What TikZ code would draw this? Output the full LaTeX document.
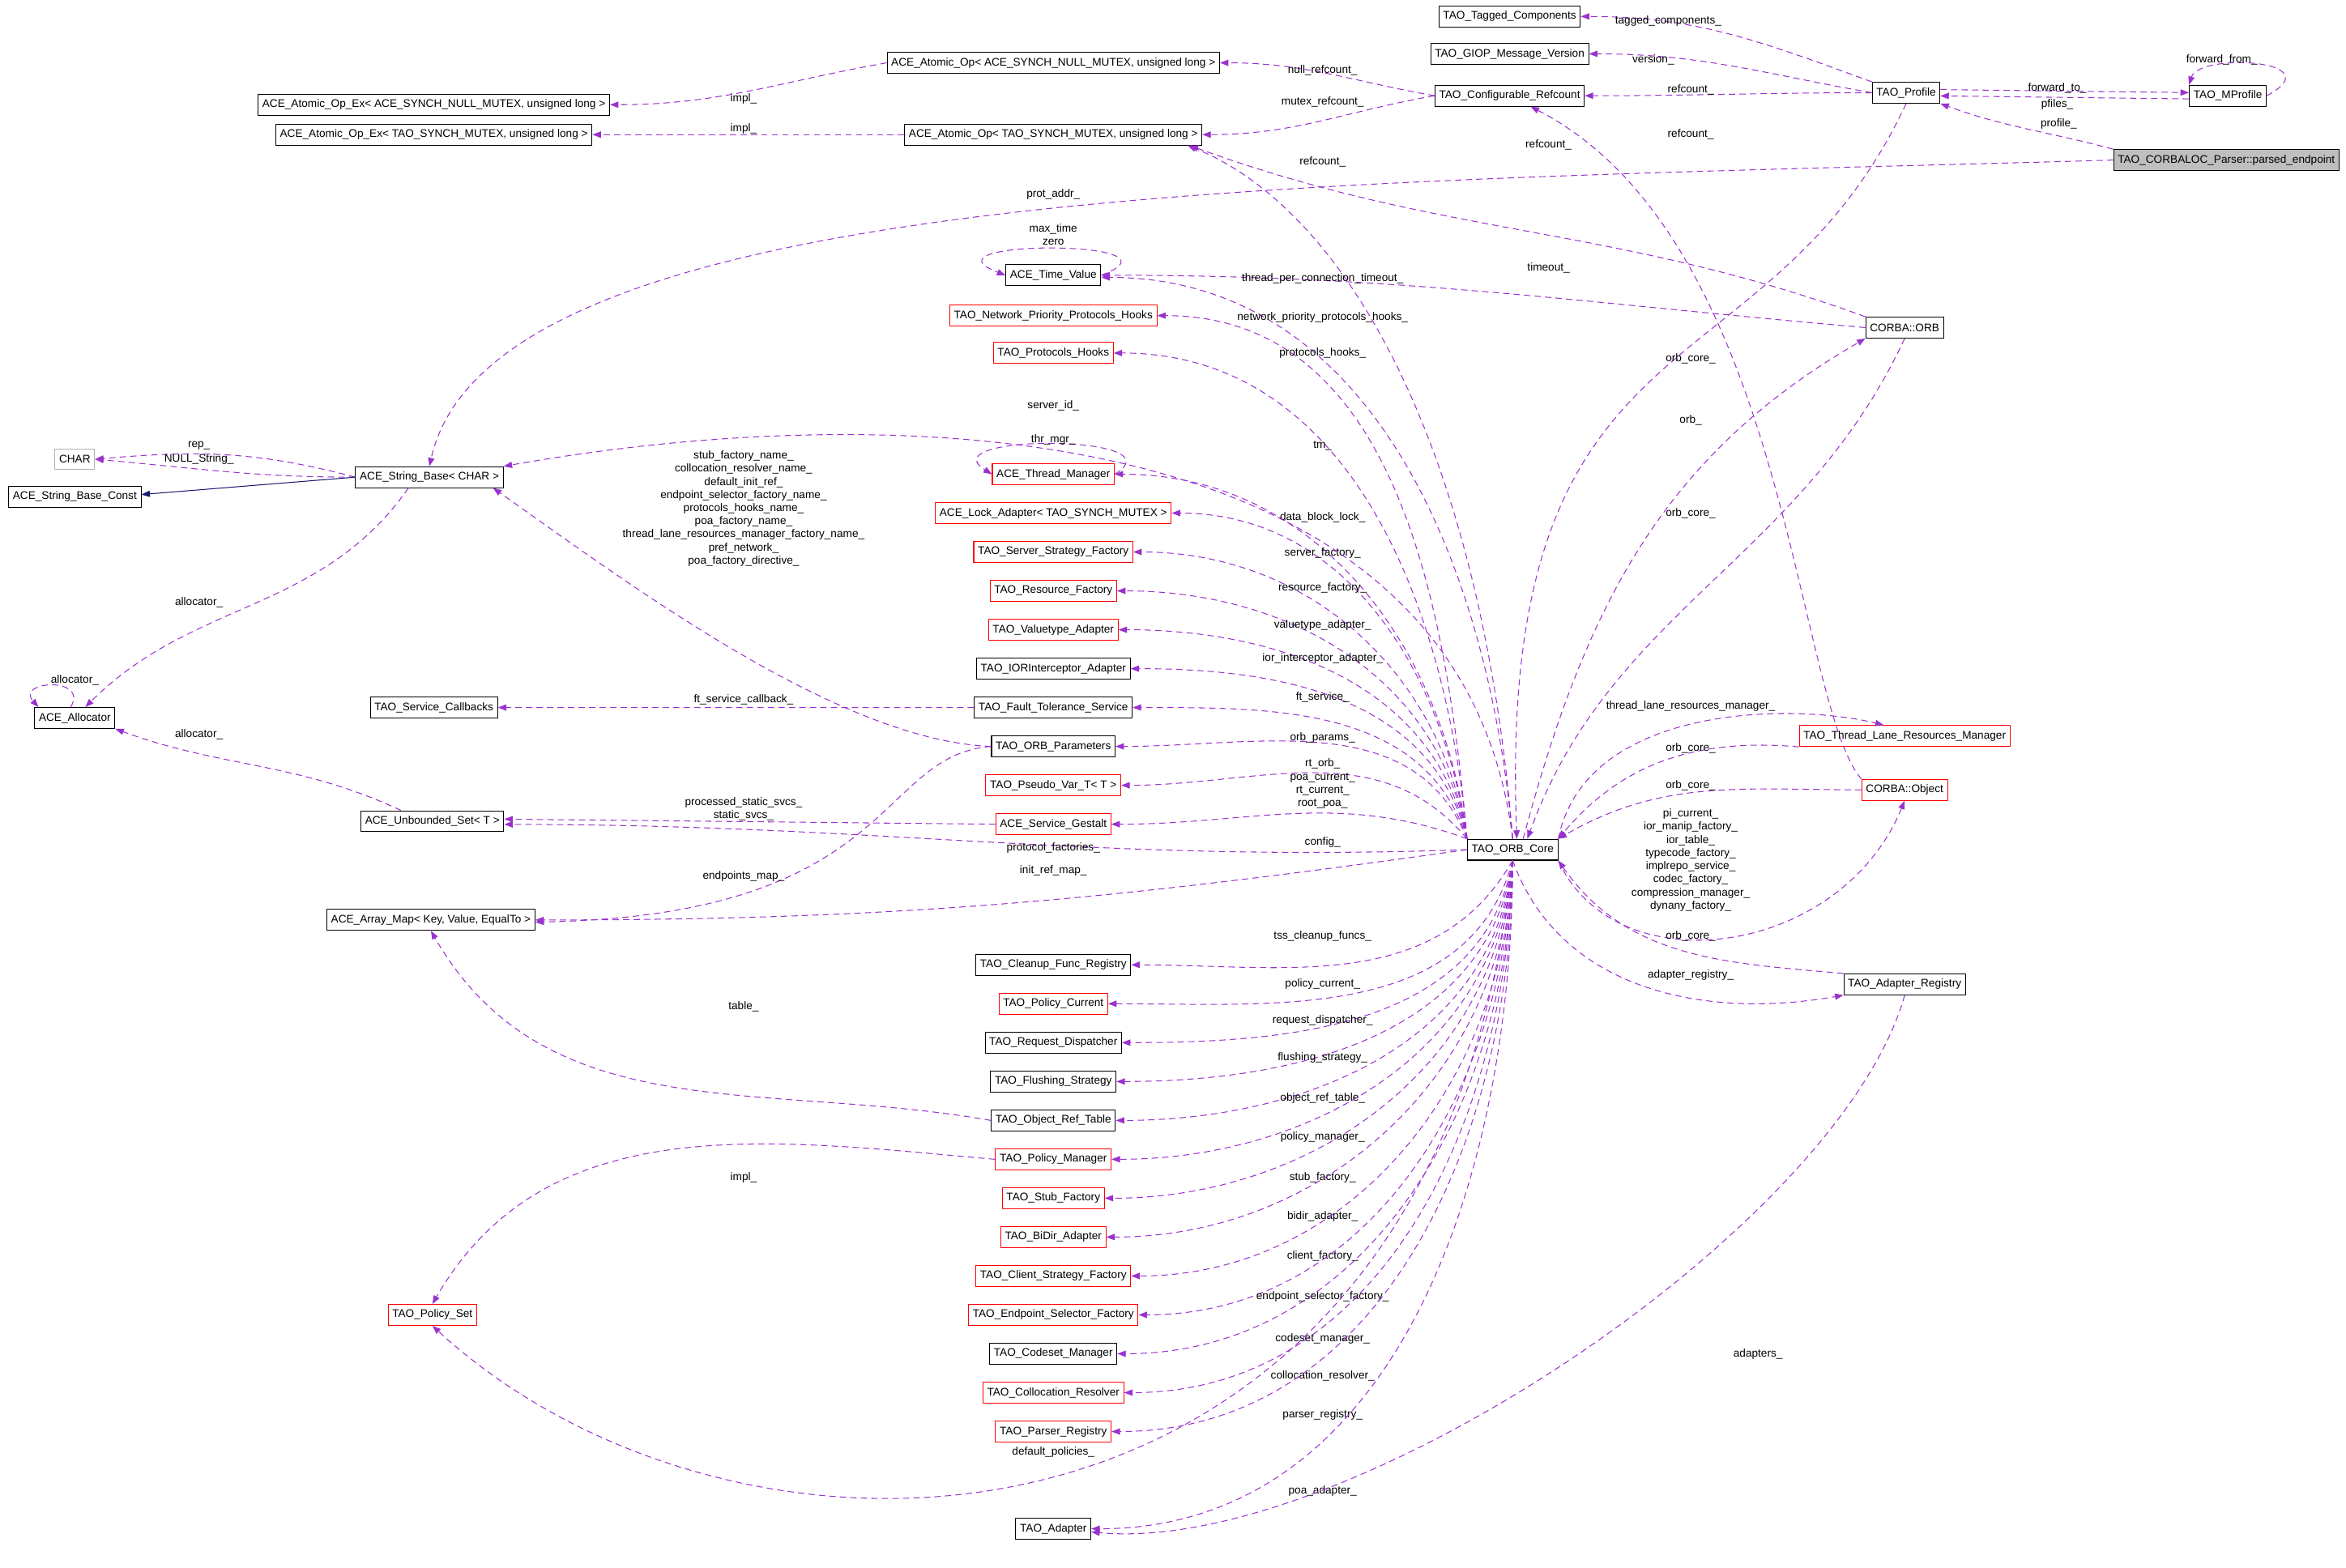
\documentclass[tikz,border=0pt]{standalone}
\usepackage{fontspec}
\setmainfont{Liberation Sans}
\usetikzlibrary{
  arrows.meta, % for Triangle tips
  positioning}
\definecolor{usecol}{HTML}{9A32CD}
\definecolor{inhcol}{HTML}{191970}
\tikzstyle{cls} = [draw, line width=.8pt, inner xsep=4pt, minimum height=.7cm, font=\fontsize{10.5}{12}\selectfont]
\tikzstyle{redcls} = [cls, draw=red]
\tikzstyle{grycls} = [cls, draw=black!30]
\tikzstyle{cur} = [cls, fill=black!25]
\tikzstyle{use} = [usecol, line width=.8pt, dash pattern=on 6pt off 4pt, -{Triangle[length=8pt,width=6pt]}]
\tikzstyle{inh} = [inhcol, line width=.8pt, -{Triangle[length=8pt,width=6pt]}]
\tikzstyle{lbl} = [align=center, inner sep=0pt, font=\fontsize{10.5}{12.5}\selectfont]

\begin{document}
\begin{tikzpicture}[x=.05cm, y=.05cm, node distance=1.3cm]
\useasboundingbox (0,0) rectangle (1568,-1048);

% top right
\node[cls] (tagged) at (1009,-11) {TAO\_Tagged\_Components};
\node[cls] (giop) at (1009,-36) {TAO\_GIOP\_Message\_Version};
\node[cls] (confref) at (1009,-64) {TAO\_Configurable\_Refcount};
\node[cls] (profile) at (1274,-62) {TAO\_Profile};
\node[cls] (mprofile) at (1489,-64) {TAO\_MProfile};
\node[cur] (parsed) at (1488,-107) {TAO\_CORBALOC\_Parser::parsed\_endpoint};
\node[cls] (atomnull) at (704,-42) {ACE\_Atomic\_Op< ACE\_SYNCH\_NULL\_MUTEX, unsigned long >};
\node[cls] (atomexnull) at (290,-70) {ACE\_Atomic\_Op\_Ex< ACE\_SYNCH\_NULL\_MUTEX, unsigned long >};
\node[cls] (atommtx) at (704,-90) {ACE\_Atomic\_Op< TAO\_SYNCH\_MUTEX, unsigned long >};
\node[cls] (atomexmtx) at (290,-90) {ACE\_Atomic\_Op\_Ex< TAO\_SYNCH\_MUTEX, unsigned long >};

% left
\node[grycls] (char) at (50,-307) {CHAR};
\node[cls] (strconst) at (50,-332) {ACE\_String\_Base\_Const};
\node[cls] (strbase) at (287,-319) {ACE\_String\_Base< CHAR >};
\node[cls] (alloc) at (50,-480) {ACE\_Allocator};
\node[cls] (svccb) at (290,-473) {TAO\_Service\_Callbacks};
\node[cls] (unbset) at (289,-549) {ACE\_Unbounded\_Set< T >};
\node[cls] (arraymap) at (288,-615) {ACE\_Array\_Map< Key, Value, EqualTo >};
\node[redcls] (polset) at (289,-879) {TAO\_Policy\_Set};

% middle column
\node[cls] (timeval) at (704,-184) {ACE\_Time\_Value};
\node[redcls] (netprio) at (704,-211) {TAO\_Network\_Priority\_Protocols\_Hooks};
\node[redcls] (protohooks) at (704,-236) {TAO\_Protocols\_Hooks};
\node[redcls] (thrmgr) at (704,-317) {ACE\_Thread\_Manager};
\node[redcls, below of=thrmgr] (lockad) {ACE\_Lock\_Adapter< TAO\_SYNCH\_MUTEX >};
\node[redcls, below of=lockad] (srvfac) {TAO\_Server\_Strategy\_Factory};
\node[redcls, below of=srvfac] (resfac) {TAO\_Resource\_Factory};
\node[redcls, below of=resfac] (valadp) {TAO\_Valuetype\_Adapter};
\node[cls, below of=valadp] (iorint) {TAO\_IORInterceptor\_Adapter};
\node[cls, below of=iorint] (ft) {TAO\_Fault\_Tolerance\_Service};
\node[cls, below of=ft] (params) {TAO\_ORB\_Parameters};
\node[redcls, below of=params] (pseudo) {TAO\_Pseudo\_Var\_T< T >};
\node[redcls, below of=pseudo] (gestalt) {ACE\_Service\_Gestalt};
\node[cls] (cleanup) at (704,-645) {TAO\_Cleanup\_Func\_Registry};
\node[redcls, below of=cleanup] (polcur) {TAO\_Policy\_Current};
\node[cls, below of=polcur] (reqdisp) {TAO\_Request\_Dispatcher};
\node[cls, below of=reqdisp] (flush) {TAO\_Flushing\_Strategy};
\node[cls, below of=flush] (objref) {TAO\_Object\_Ref\_Table};
\node[redcls, below of=objref] (polman) {TAO\_Policy\_Manager};
\node[redcls, below of=polman] (stubfac) {TAO\_Stub\_Factory};
\node[redcls, below of=stubfac] (bidir) {TAO\_BiDir\_Adapter};
\node[redcls, below of=bidir] (clifac) {TAO\_Client\_Strategy\_Factory};
\node[redcls, below of=clifac] (epsel) {TAO\_Endpoint\_Selector\_Factory};
\node[cls, below of=epsel] (codeset) {TAO\_Codeset\_Manager};
\node[redcls, below of=codeset] (colloc) {TAO\_Collocation\_Resolver};
\node[redcls, below of=colloc] (parser) {TAO\_Parser\_Registry};
\node[cls] (adapter) at (704,-1022) {TAO\_Adapter};

% right
\node[cls] (core) at (1011,-568) {TAO\_ORB\_Core};
\node[cls] (orb) at (1273,-219) {CORBA::ORB};
\node[redcls] (tlrm) at (1273,-492) {TAO\_Thread\_Lane\_Resources\_Manager};
\node[redcls] (object) at (1273,-528) {CORBA::Object};
\node[cls] (adreg) at (1273,-658) {TAO\_Adapter\_Registry};

% profile and friends
\draw[use] (profile.north west) to[out=160,in=0] (tagged.east);
\node[lbl] (l1) at (1115,-14) {tagged\_components\_};
\draw[use] (profile.west) to[out=170,in=0] (giop.east);
\node[lbl] (l2) at (1105,-40) {version\_};
\draw[use] (profile.west) to[out=180,in=0] (confref.east);
\node[lbl] (l3) at (1130,-60) {refcount\_};
\draw[use] ([yshift=3pt]profile.east) -- ([yshift=3pt]mprofile.west);
\node[lbl] (l4) at (1375,-59) {forward\_to\_};
\draw[use] ([yshift=-3pt]mprofile.west) -- ([yshift=-3pt]profile.east);
\node[lbl] (l5) at (1375,-70) {pfiles\_};
\draw[use] (mprofile.east) .. controls (1560,-40) and (1470,-35) .. (mprofile.north west);
\node[lbl] (l6) at (1485,-40) {forward\_from\_};
\draw[use] (parsed.north west) to[out=165,in=-20] (profile.south east);
\node[lbl] (l7) at (1376,-83) {profile\_};
\draw[use] (parsed.west) .. controls (900,-122) and (330,-120) .. (strbase.north);
\node[lbl] (l8) at (704,-130) {prot\_addr\_};

% refcounts
\draw[use] (confref.west) to[out=170,in=0] (atomnull.east);
\node[lbl] (l9) at (884,-47) {null\_refcount\_};
\draw[use] (confref.west) to[out=190,in=0] (atommtx.east);
\node[lbl] (l10) at (884,-68) {mutex\_refcount\_};
\draw[use] (atomnull.west) to[out=190,in=0] (atomexnull.east);
\node[lbl] (l11) at (497,-66) {impl\_};
\draw[use] (atommtx.west) -- (atomexmtx.east);
\node[lbl] (l12) at (497,-86) {impl\_};
\draw[use] (object.north west) .. controls (1200,-470) and (1195,-160) .. ([xshift=20pt]confref.south);
\node[lbl] (l13) at (1130,-90) {refcount\_};
\draw[use] (orb.north west) to[out=160,in=-20] ([xshift=-12pt]atommtx.south east);
\node[lbl] (l14) at (1035,-97) {refcount\_};
\draw[use] (core.north) .. controls (990,-300) and (900,-140) .. ([xshift=-14pt]atommtx.south east);
\node[lbl] (l15) at (884,-108) {refcount\_};

% time value
\draw[use] (timeval.east) .. controls (800,-160) and (610,-160) .. (timeval.west);
\node[lbl] (l16) at (704,-157) {max\_time\\zero};
\draw[use] (orb.west) to[out=175,in=0] (timeval.east);
\node[lbl] (l17) at (1035,-179) {timeout\_};
\draw[use] (core.north) to[out=95,in=0] ([yshift=-2pt]timeval.east);
\node[lbl] (l18) at (884,-186) {thread\_per\_connection\_timeout\_};

% ORB core members, upper column
\foreach \t/\l/\ly/\o in {netprio/network\_priority\_protocols\_hooks\_/212/95,
    protohooks/protocols\_hooks\_/236/95, thrmgr/tm\_/298/97,
    lockad/data\_block\_lock\_/346/98, srvfac/server\_factory\_/370/99,
    resfac/resource\_factory\_/393/100, valadp/valuetype\_adapter\_/418/102,
    iorint/ior\_interceptor\_adapter\_/440/104, ft/ft\_service\_/466/108,
    params/orb\_params\_/493/112, {pseudo}/{rt\_orb\_\\poa\_current\_\\rt\_current\_\\root\_poa\_}/524/130,
    gestalt/config\_/563/160}
{
  \draw[use] (core.north west) to[out=\o,in=0] (\t.east);
  \node[lbl] at (884,-\ly) {\l};
}
% ORB core members, lower column
\foreach \t/\l/\ly/\o in {cleanup/tss\_cleanup\_funcs\_/626/240,
    polcur/policy\_current\_/658/255, reqdisp/request\_dispatcher\_/682/260,
    flush/flushing\_strategy\_/707/262, objref/object\_ref\_table\_/734/264,
    polman/policy\_manager\_/760/265, stubfac/stub\_factory\_/787/266,
    bidir/bidir\_adapter\_/813/267, clifac/client\_factory\_/840/268,
    epsel/endpoint\_selector\_factory\_/867/268, codeset/codeset\_manager\_/895/269,
    colloc/collocation\_resolver\_/920/269, parser/parser\_registry\_/946/270,
    adapter/poa\_adapter\_/997/270}
{
  \draw[use] (core.south) to[out=\o,in=0] (\t.east);
  \node[lbl] at (884,-\ly) {\l};
}
\draw[use] (thrmgr.east) .. controls (790,-290) and (620,-290) .. (thrmgr.west);
\node[lbl] (l19) at (704,-294) {thr\_mgr\_};
\draw[use] (core.north) to[out=97,in=10] (strbase.north east);
\node[lbl] (l20) at (704,-271) {server\_id\_};

% left side
\draw[use] (strbase.west) to[out=165,in=5] (char.east);
\node[lbl] (l21) at (133,-298) {rep\_};
\draw[use] (strbase.west) to[out=180,in=-5] (char.east);
\node[lbl] (l22) at (133,-307) {NULL\_String\_};
\draw[inh] (strbase.west) -- ([yshift=2pt]strconst.east);
\draw[use] ([xshift=-20pt]strbase.south) to[out=235,in=45] ([xshift=10pt]alloc.north);
\node[lbl] (l23) at (133,-403) {allocator\_};
\draw[use] ([xshift=-4pt]alloc.north) .. controls (60,-452) and (10,-455) .. ([xshift=4pt]alloc.north west);
\node[lbl] (l24) at (50,-455) {allocator\_};
\draw[use] ([xshift=-30pt]unbset.north) to[out=155,in=-20] (alloc.south east);
\node[lbl] (l25) at (133,-491) {allocator\_};
\draw[use] (gestalt.west) -- ([yshift=2pt]unbset.east);
\node[lbl] (l26) at (497,-541) {processed\_static\_svcs\_\\static\_svcs\_};
\draw[use] (core.west) to[out=182,in=0] ([yshift=-3pt]unbset.east);
\node[lbl] (l27) at (704,-567) {protocol\_factories\_};
\draw[use] (core.west) to[out=188,in=0] (arraymap.east);
\node[lbl] (l28) at (704,-582) {init\_ref\_map\_};
\draw[use] (params.west) .. controls (585,-505) and (600,-612) .. ([yshift=-2pt]arraymap.east);
\node[lbl] (l29) at (497,-586) {endpoints\_map\_};
\draw[use] (params.west) .. controls (560,-495) and (420,-390) .. ([xshift=-10pt]strbase.south east);
\node[lbl] (l30) at (497,-340) {stub\_factory\_name\_\\collocation\_resolver\_name\_\\default\_init\_ref\_\\endpoint\_selector\_factory\_name\_\\protocols\_hooks\_name\_\\poa\_factory\_name\_\\thread\_lane\_resources\_manager\_factory\_name\_\\pref\_network\_\\poa\_factory\_directive\_};
\draw[use] (ft.west) -- (svccb.east);
\node[lbl] (l31) at (497,-468) {ft\_service\_callback\_};
\draw[use] (objref.west) to[out=170,in=-60] (arraymap.south);
\node[lbl] (l32) at (497,-673) {table\_};
\draw[use] (polman.west) to[out=175,in=60] (polset.north);
\node[lbl] (l33) at (497,-787) {impl\_};
\draw[use] (core.south) .. controls (960,-1060) and (500,-1080) .. (polset.south);
\node[lbl] (l34) at (704,-971) {default\_policies\_};

% right side
\draw[use] (adreg.south) .. controls (1230,-820) and (900,-1040) .. ([yshift=-3pt]adapter.east);
\node[lbl] (l35) at (1175,-905) {adapters\_};
\draw[use] (profile.south) .. controls (1180,-270) and (1000,-200) .. ([xshift=4pt]core.north);
\node[lbl] (l36) at (1130,-240) {orb\_core\_};
\draw[use] ([xshift=10pt]core.north) to[out=75,in=-150] (orb.south west);
\node[lbl] (l37) at (1130,-281) {orb\_};
\draw[use] (orb.south) to[out=-115,in=70] ([xshift=14pt]core.north);
\node[lbl] (l38) at (1130,-343) {orb\_core\_};
\draw[use] (core.north east) .. controls (1060,-470) and (1200,-470) .. ([xshift=-20pt]tlrm.north);
\node[lbl] (l39) at (1130,-472) {thread\_lane\_resources\_manager\_};
\draw[use] (tlrm.south west) to[out=175,in=50] (core.north east);
\node[lbl] (l40) at (1130,-500) {orb\_core\_};
\draw[use] (object.west) to[out=180,in=30] (core.north east);
\node[lbl] (l41) at (1130,-525) {orb\_core\_};
\draw[use] (core.south east) .. controls (1080,-660) and (1230,-640) .. (object.south);
\node[lbl] (l42) at (1130,-575) {pi\_current\_\\ior\_manip\_factory\_\\ior\_table\_\\typecode\_factory\_\\implrepo\_service\_\\codec\_factory\_\\compression\_manager\_\\dynany\_factory\_};
\draw[use] (adreg.north west) to[out=175,in=-55] (core.south east);
\node[lbl] (l43) at (1130,-626) {orb\_core\_};
\draw[use] (core.south) to[out=-70,in=190] (adreg.south west);
\node[lbl] (l44) at (1130,-652) {adapter\_registry\_};

\end{tikzpicture}
\end{document}
